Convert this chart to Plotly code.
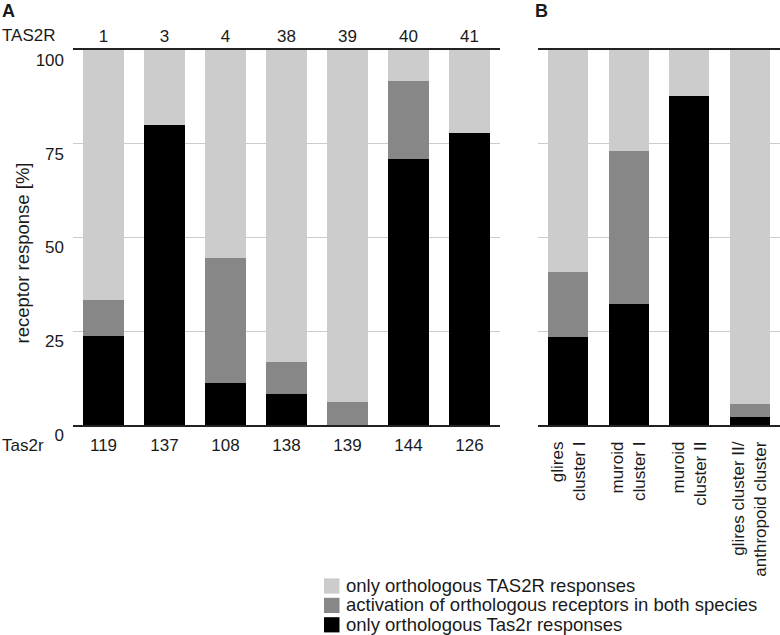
import plotly.graph_objects as go

# ---------------- data ----------------
tas2r_human = ["1", "3", "4", "38", "39", "40", "41"]
tas2r_mouse = ["119", "137", "108", "138", "139", "144", "126"]
a_only_mouse = [23.8, 80.0, 11.2, 8.3, 0.0, 70.9, 77.8]
a_both = [9.5, 0.0, 33.4, 8.4, 6.1, 20.8, 0.0]
a_only_human = [66.7, 20.0, 55.4, 83.3, 93.9, 8.3, 22.2]

clusters = ["glires<br>cluster I", "muroid<br>cluster I", "muroid<br>cluster II",
            "glires cluster II/<br>anthropoid cluster"]
b_only_mouse = [23.5, 32.4, 87.8, 2.2]
b_both = [17.3, 40.7, 0.0, 3.4]
b_only_human = [59.2, 26.9, 12.2, 94.4]

series_names = ["only orthologous TAS2R responses",
                "activation of orthologous receptors in both species",
                "only orthologous Tas2r responses"]
y_ticks = [0, 25, 50, 75, 100]

# ---------------- style ----------------
W, H = 780, 635
FONT = "Liberation Sans, Arial, Helvetica, sans-serif"
C_LIGHT, C_DARK, C_BLACK = "#cccccc", "#878787", "#000000"
TXT = "#1a1a1a"
GRID = "#cccccc"


def px(x):
    return x / W


def py(y):
    return 1 - y / H


fig = go.Figure()

# Panel A
for vals, col, name in [(a_only_mouse, C_BLACK, series_names[2]),
                        (a_both, C_DARK, series_names[1]),
                        (a_only_human, C_LIGHT, series_names[0])]:
    fig.add_trace(go.Bar(x=tas2r_mouse, y=vals, marker=dict(color=col, line=dict(width=0)),
                         name=name, xaxis="x", yaxis="y", showlegend=False))
# Panel B
for vals, col, name in [(b_only_mouse, C_BLACK, series_names[2]),
                        (b_both, C_DARK, series_names[1]),
                        (b_only_human, C_LIGHT, series_names[0])]:
    fig.add_trace(go.Bar(x=clusters, y=vals, marker=dict(color=col, line=dict(width=0)),
                         name=name, xaxis="x2", yaxis="y2", showlegend=False))

ydom = [py(425), py(50)]
axis_common = dict(showline=True, mirror=True, linecolor="#222222", linewidth=1.5,
                   ticks="", showgrid=False, zeroline=False, automargin=False,
                   fixedrange=True, tickfont=dict(size=17, color=TXT, family=FONT))

fig.update_layout(
    width=W, height=H,
    margin=dict(l=0, r=0, t=0, b=0),
    paper_bgcolor="white", plot_bgcolor="white",
    barmode="stack", bargap=0.335,
    showlegend=False,
    font=dict(family=FONT, color=TXT),
    xaxis=dict(domain=[px(73), px(500)], anchor="y", type="category",
               categoryarray=tas2r_mouse, ticklabelstandoff=4, **axis_common),
    xaxis3=dict(overlaying="x", anchor="y", side="top", type="linear",
                range=[-0.5, len(tas2r_human) - 0.5],
                tickvals=list(range(len(tas2r_human))), ticktext=tas2r_human,
                showline=False, ticks="", showgrid=False, zeroline=False,
                automargin=False, fixedrange=True, ticklabelstandoff=4,
                tickfont=dict(size=17, color=TXT, family=FONT)),
    yaxis=dict(domain=ydom, anchor="x", range=[0, 100], tickvals=y_ticks,
               showgrid=True, gridcolor=GRID, gridwidth=1, showline=False,
               zeroline=False, ticks="", automargin=False, fixedrange=True,
               ticklabelshift=10, ticklabelstandoff=8,
               tickfont=dict(size=17, color=TXT, family=FONT)),
    xaxis2=dict(domain=[px(538), 1.0], anchor="y2", type="category",
                categoryarray=clusters, tickangle=-90, ticklabelstandoff=8,
                **axis_common),
    yaxis2=dict(domain=ydom, anchor="x2", range=[0, 100], tickvals=y_ticks,
                showgrid=True, gridcolor=GRID, gridwidth=1, showline=False,
                zeroline=False, ticks="", showticklabels=False,
                automargin=False, fixedrange=True),
)

# dummy trace so the top axis of panel A is drawn
fig.add_trace(go.Scatter(x=list(range(len(tas2r_human))), y=[None] * len(tas2r_human),
                         xaxis="x3", yaxis="y", mode="markers", showlegend=False,
                         hoverinfo="skip"))

ann = []
ann.append(dict(text="<b>A</b>", x=0, y=py(11), xanchor="left", yanchor="middle",
                font=dict(size=18)))
ann.append(dict(text="<b>B</b>", x=px(533), y=py(11), xanchor="left", yanchor="middle",
                font=dict(size=18)))
ann.append(dict(text="TAS2R", x=0, y=py(35), xanchor="left", yanchor="middle",
                font=dict(size=17)))
ann.append(dict(text="Tas2r", x=0, y=py(445), xanchor="left", yanchor="middle",
                font=dict(size=17)))
ann.append(dict(text="receptor response [%]", x=px(21.5), y=py(253), textangle=-90,
                xanchor="center", yanchor="middle", font=dict(size=18.5)))

# legend (manual, to match square size and spacing)
shapes = []
leg_cols = [C_LIGHT, C_DARK, C_BLACK]
for i, (name, col) in enumerate(zip(series_names, leg_cols)):
    yc = 586.0 + i * 19.4
    shapes.append(dict(type="rect", xref="paper", yref="paper",
                       x0=px(324), x1=px(339.5), y0=py(yc - 7.6), y1=py(yc + 7.6),
                       fillcolor=col, line=dict(width=0)))
    ann.append(dict(text=name, x=px(344), y=py(yc - 0.5), xanchor="left", yanchor="middle",
                    font=dict(size=18.5)))

for a in ann:
    a.update(xref="paper", yref="paper", showarrow=False)
    a.setdefault("font", {})
    a["font"].update(family=FONT, color=TXT)

fig.update_layout(annotations=ann, shapes=shapes)

fig.write_html("out.html", config={"displayModeBar": False},
               post_script="document.body.style.margin='0';document.body.style.overflow='hidden';")
